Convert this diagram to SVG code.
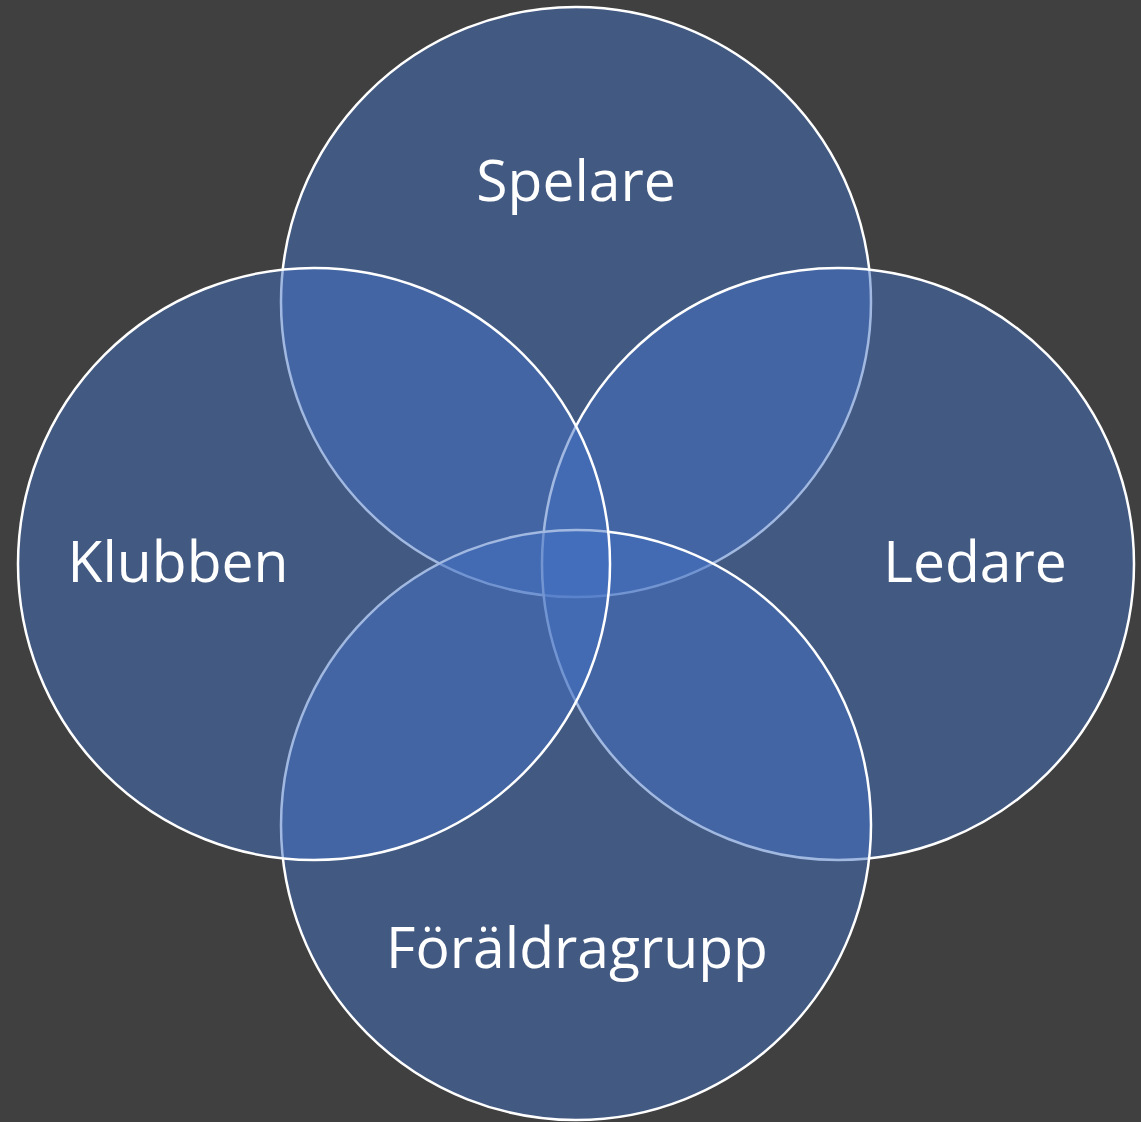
<svg xmlns="http://www.w3.org/2000/svg" width="1141" height="1122" viewBox="0 0 1141 1122">
  <style>
    .c { fill: rgba(68,114,196,0.5); stroke: #ffffff; stroke-width: 2.5; }
    .t { fill: #ffffff; font-family: "Open Sans", "Liberation Sans", sans-serif; font-size: 57px; text-anchor: middle; }
  </style>
  <rect width="1141" height="1122" fill="#404040"/>
  <g id="spelare">
    <circle class="c" cx="576" cy="302" r="295"/>
  </g>
  <g id="ledare">
    <circle class="c" cx="838" cy="564" r="296"/>
  </g>
  <g id="foraldragrupp">
    <circle class="c" cx="576" cy="825" r="295"/>
  </g>
  <g id="klubben">
    <circle class="c" cx="314" cy="564" r="296"/>
  </g>
  <g id="labels">
    <text class="t" x="576" y="201">Spelare</text>
    <text class="t" x="178" y="582">Klubben</text>
    <text class="t" x="975" y="582">Ledare</text>
    <text class="t" x="577" y="968">Föräldragrupp</text>
  </g>
</svg>
